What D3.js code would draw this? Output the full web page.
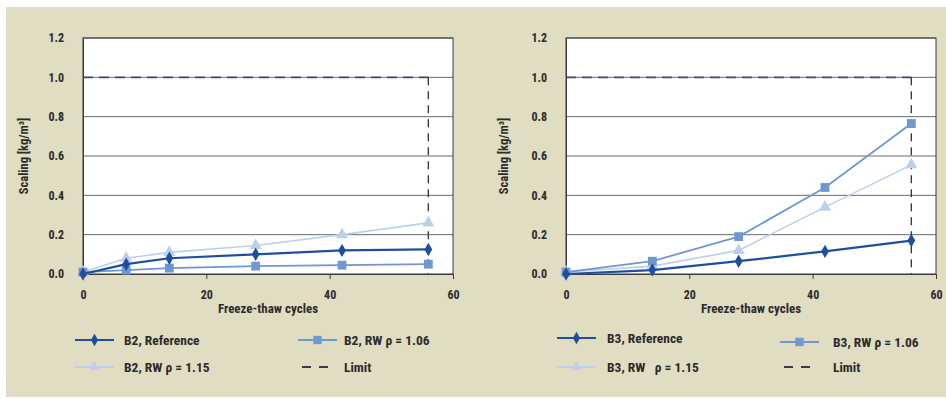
<!DOCTYPE html>
<html>
<head>
<meta charset="utf-8">
<script src="https://cdn.jsdelivr.net/npm/d3@7"></script>
<style>
  html, body { margin: 0; padding: 0; background: #ffffff; }
  svg { display: block; }
  text { font-family: "Liberation Sans Narrow", "Roboto Condensed", "Arial Narrow", "Liberation Sans", sans-serif; fill: #2b2b2b; }
</style>
</head>
<body>
<svg id="chart" width="946" height="399"></svg>
<script>
// Scaling after freeze-thaw cycles, two concrete mixes (B2 and B3)
const b2Cycles = [0, 7, 14, 28, 42, 56];
const b2Reference = [0.0, 0.05, 0.08, 0.10, 0.12, 0.125];
const b2Rw106 = [0.01, 0.02, 0.03, 0.04, 0.045, 0.05];
const b2Rw115 = [0.01, 0.08, 0.11, 0.145, 0.20, 0.26];

const b3Cycles = [0, 14, 28, 42, 56];
const b3Reference = [0.0, 0.02, 0.065, 0.115, 0.17];
const b3Rw106 = [0.01, 0.065, 0.19, 0.44, 0.765];
const b3Rw115 = [0.01, 0.04, 0.12, 0.34, 0.555];

const limitValue = 1.0;
const limitCycles = 56;

const yTicks = [0, 0.2, 0.4, 0.6, 0.8, 1.0, 1.2];
const xTicks = [0, 20, 40, 60];

const b2Labels = ["B2, Reference", "B2, RW \u03C1 = 1.06", "B2, RW \u03C1 = 1.15", "Limit"];
const b3Labels = ["B3, Reference", "B3, RW \u03C1 = 1.06", "B3, RW \u00A0\u00A0\u03C1 = 1.15", "Limit"];

const colors = { reference: "#1e4f9e", rw106: "#7097cf", rw115: "#bcd0ec", limit: "#4a4868" };
const textColor = "#3c3c3c";

const svg = d3.select("#chart");

// printed-page backdrop
svg.append("rect").attr("x", 6).attr("y", 7).attr("width", 940).attr("height", 390).attr("fill", "#e0ddc2");

function drawPanel(opt) {
  const left = opt.left, right = opt.right, top = 38, bottom = 274;
  const x = d3.scaleLinear().domain([0, 60]).range([left, right]);
  const y = d3.scaleLinear().domain([0, 1.2]).range([bottom, top]);
  const g = svg.append("g");

  g.append("rect").attr("x", left).attr("y", top).attr("width", right - left).attr("height", bottom - top).attr("fill", "#ffffff");

  // horizontal gridlines
  g.append("g").selectAll("line").data(yTicks.slice(1)).join("line")
    .attr("x1", left).attr("x2", right).attr("y1", d => y(d)).attr("y2", d => y(d))
    .attr("stroke", "#6a6a6a").attr("stroke-width", 1);

  // frame
  g.append("rect").attr("x", left).attr("y", top).attr("width", right - left).attr("height", bottom - top)
    .attr("fill", "none").attr("stroke", "#3a3a3a").attr("stroke-width", 1);

  // axes
  const yAxis = d3.axisLeft(y).tickValues(yTicks).tickFormat(d3.format(".1f")).tickSize(0).tickPadding(19);
  const ya = g.append("g").attr("transform", `translate(${left},0)`).call(yAxis);
  ya.select(".domain").attr("stroke", "#3a3a3a");
  ya.selectAll("text").attr("font-size", 12).attr("font-weight", "bold").attr("fill", textColor);

  const xAxis = d3.axisBottom(x).tickValues(xTicks).tickSize(5).tickPadding(11);
  const xa = g.append("g").attr("transform", `translate(0,${bottom})`).call(xAxis);
  xa.select(".domain").attr("stroke", "#3a3a3a");
  xa.selectAll("line").attr("stroke", "#3a3a3a");
  xa.selectAll("text").attr("font-size", 12).attr("font-weight", "bold").attr("fill", textColor);

  g.append("text").attr("x", (left + right) / 2).attr("y", 313).attr("text-anchor", "middle")
    .attr("font-size", 13).attr("font-weight", "bold").attr("fill", textColor).text("Freeze-thaw cycles");

  g.append("text").attr("transform", `translate(${opt.ylabelX},156) rotate(-90)`).attr("text-anchor", "middle")
    .attr("font-size", 12.5).attr("font-weight", "bold").attr("fill", textColor)
    .text("Scaling [kg/m\u00B3]");

  // limit lines
  g.append("line").attr("x1", x(0)).attr("x2", x(limitCycles)).attr("y1", y(limitValue)).attr("y2", y(limitValue))
    .attr("stroke", colors.limit).attr("stroke-width", 1.8).attr("stroke-dasharray", "10,6");
  g.append("line").attr("x1", x(limitCycles)).attr("x2", x(limitCycles)).attr("y1", y(limitValue)).attr("y2", y(0))
    .attr("stroke", "#333").attr("stroke-width", 1.3).attr("stroke-dasharray", "8,6");

  const line = d3.line().x(d => x(d[0])).y(d => y(d[1]));
  const series = [
    { vals: opt.rw115, color: colors.rw115, width: 1.6, shape: d3.symbolTriangle, size: 64 },
    { vals: opt.rw106, color: colors.rw106, width: 1.8, shape: d3.symbolSquare, size: 78 },
    { vals: opt.reference, color: colors.reference, width: 2.2, shape: d3.symbolDiamond, size: 52 }
  ];
  series.forEach(s => {
    const pts = opt.cycles.map((c, i) => [c, s.vals[i]]);
    g.append("path").datum(pts).attr("d", line).attr("fill", "none").attr("stroke", s.color).attr("stroke-width", s.width);
    g.append("g").selectAll("path").data(pts).join("path")
      .attr("transform", d => `translate(${x(d[0])},${y(d[1])})`)
      .attr("d", d3.symbol().type(s.shape).size(s.size)).attr("fill", s.color);
  });

  // legend
  const lg = opt.legend;
  const items = [
    { x: lg.x1, y: lg.y1, color: colors.reference, width: 2.2, shape: d3.symbolDiamond, size: 45, label: opt.labels[0], tx: lg.tx1 },
    { x: lg.x2, y: lg.y1b, color: colors.rw106, width: 2, shape: d3.symbolSquare, size: 70, label: opt.labels[1], tx: lg.tx2 },
    { x: lg.x1, y: lg.y2, color: colors.rw115, width: 2, shape: d3.symbolTriangle, size: 50, label: opt.labels[2], tx: lg.tx1 },
    { x: lg.x2, y: lg.y2, color: "#333", width: 2, shape: null, label: opt.labels[3], tx: lg.tx2, dash: true }
  ];
  items.forEach(it => {
    if (it.dash) {
      g.append("line").attr("x1", it.x + 4).attr("x2", it.x + 32).attr("y1", it.y).attr("y2", it.y)
        .attr("stroke", "#3a3a4a").attr("stroke-width", 2).attr("stroke-dasharray", "9,8");
    } else {
      g.append("line").attr("x1", it.x).attr("x2", it.x + 39).attr("y1", it.y).attr("y2", it.y)
        .attr("stroke", it.color).attr("stroke-width", it.width);
      g.append("path").attr("transform", `translate(${it.x + 19.5},${it.y})`)
        .attr("d", d3.symbol().type(it.shape).size(it.size)).attr("fill", it.color);
    }
    g.append("text").attr("x", it.tx).attr("y", it.y).attr("dy", "0.35em")
      .attr("font-size", 13.5).attr("font-weight", "bold").attr("fill", textColor).text(it.label);
  });
}

drawPanel({
  left: 83, right: 453, ylabelX: 28, cycles: b2Cycles,
  reference: b2Reference, rw106: b2Rw106, rw115: b2Rw115, labels: b2Labels,
  legend: { x1: 75, x2: 298, y1: 340, y1b: 340, y2: 367, tx1: 124, tx2: 344 }
});
drawPanel({
  left: 566, right: 936, ylabelX: 508, cycles: b3Cycles,
  reference: b3Reference, rw106: b3Rw106, rw115: b3Rw115, labels: b3Labels,
  legend: { x1: 557, x2: 780, y1: 338, y1b: 342, y2: 367, tx1: 607, tx2: 833 }
});
</script>
</body>
</html>
